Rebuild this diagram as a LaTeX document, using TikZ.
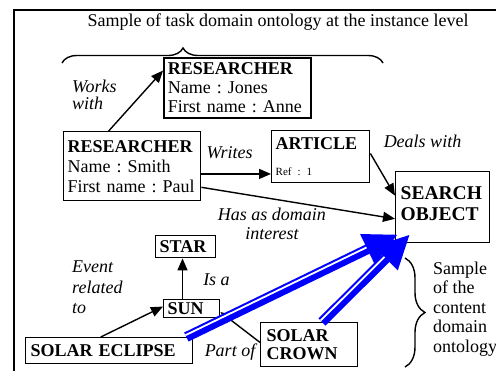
\documentclass[tikz,border=0pt]{standalone}
\usepackage{fontspec}
\setmainfont{Liberation Serif}
\usetikzlibrary{arrows.meta,calc,decorations.pathreplacing}

\begin{document}
\frenchspacing
\begin{tikzpicture}[x=1pt,y=-1pt,
  ent/.style={draw, line width=1.4pt, fill=white, anchor=north west, align=left,
    inner xsep=4pt, inner ysep=0pt, font=\fontsize{18}{19}\selectfont},
  lbl/.style={font=\fontsize{18}{20}\selectfont\itshape, inner sep=0pt},
  note/.style={font=\fontsize{18}{19.5}\selectfont, inner sep=0pt},
  link/.style={line width=1.4pt, -{Triangle[length=12pt,width=10pt]}},
  domarrow/.style={blue, line width=10pt, -{Triangle[length=34pt,width=31pt]}},
  stripe/.style={white, line width=1.8pt, shorten >=34pt},
  bracestyle/.style={decorate, line width=1.4pt}
]
\useasboundingbox (0,0) rectangle (496,370);

% outer frame
\draw[line width=1.5pt] (14,380) -- (14,10) -- (510,10);

% title and brace of the task ontology
\node[note] (title) at (278,22) {Sample of task domain ontology at the instance level};
\draw[bracestyle, decoration={brace, amplitude=15pt, aspect=0.377}] (62,63) -- (383,63);

% task domain instances
\node[ent, line width=1.8pt, minimum width=147pt, minimum height=60pt, text width=139pt] (jones) at (163,57)
  {\textbf{RESEARCHER}\\Name~:~Jones\\First~name~:~Anne};
\node[ent, font=\fontsize{18}{20}\selectfont, inner xsep=4pt, minimum width=137pt, minimum height=69pt, text width=129pt] (smith) at (63,131)
  {\textbf{RESEARCHER}\\Name~:~Smith\\First~name~:~Paul};
\node[ent, minimum width=98pt, minimum height=52pt, text width=90pt] (article) at (271,130)
  {\textbf{ARTICLE}\\[7pt]{\fontsize{11}{13}\selectfont Ref~:~1}};
\node[ent, font=\fontsize{19.5}{21}\selectfont, inner xsep=5pt, minimum width=94pt, minimum height=71pt, text width=84pt] (search) at (395,171)
  {\textbf{SEARCH}\\\textbf{OBJECT}\rule[-8pt]{0pt}{1pt}};

% content domain concepts
\node[ent, minimum width=60pt, minimum height=22pt, text width=52pt] (star) at (155,235) {\textbf{STAR}};
\node[ent, minimum width=56pt, minimum height=18pt, text width=48pt] (sun) at (163,299) {\textbf{SUN}};
\node[ent, inner xsep=5pt, minimum width=167pt, minimum height=26pt, text width=157pt] (eclipse) at (25,337) {\textbf{SOLAR~ECLIPSE}};
\node[ent, inner xsep=6pt, font=\fontsize{18}{18}\selectfont, minimum width=97pt, minimum height=44pt, text width=85pt] (crown) at (260,322)
  {\textbf{SOLAR}\\\textbf{CROWN}};

% relations between instances
\draw[link] ($(smith.north west)!0.33!(smith.north east)$) -- ($(jones.north west)!0.22!(jones.south west)$);
\coordinate (wr) at ($(smith.north east)!0.61!(smith.south east)$);
\draw[link] (wr) -- (wr -| article.west);
\draw[link] ($(article.north east)!0.44!(article.south east)$) -- ($(search.north west)!0.34!(search.south west)$);
\draw[link] ($(smith.north east)!0.80!(smith.south east)$) -- ($(search.north west)!0.66!(search.south west)$);

% relations between concepts
\coordinate (isa) at ($(sun.north west)!0.34!(sun.north east)$);
\draw[link] (isa) -- (isa |- star.south);
\draw[link] ($(eclipse.north west)!0.45!(eclipse.north east)$) -- ($(sun.north west)!0.39!(sun.south west)$);
\draw[link] ($(crown.north west)!0.45!(crown.south west)$) -- ($(sun.north east)!0.67!(sun.south east)$);

% relation labels
\node[lbl, align=left, anchor=west, font=\fontsize{18}{17}\selectfont\itshape] (worksw) at (72,95) {Works\\with};
\node[lbl] (writes) at (229.5,153) {Writes};
\node[lbl] (dealsw) at (422.5,141) {Deals with};
\node[lbl, align=center, font=\fontsize{18}{19}\selectfont\itshape] (hasdom) at (272,223.5) {Has as domain\\interest};
\node[lbl] (isalbl) at (216.5,280) {Is a};
\node[lbl, align=left, anchor=west, font=\fontsize{18}{20.5}\selectfont\itshape] (eventrel) at (72,287.5) {Event\\related\\to};
\node[lbl] (partof) at (230,352) {Part of};

% links from the content ontology to the search object
\coordinate (e0) at ($(eclipse.north east)!0.042!(eclipse.north west)$);
\coordinate (e1) at ($(search.south west)+(3,-9)$);
\coordinate (c0) at ($(crown.north west)!0.63!(crown.north east)$);
\coordinate (c1) at ($(search.south west)+(15,-9)$);
\draw[domarrow] (e0) -- (e1);
\draw[stripe] ($(e0)!2pt!90:(e1)$) -- ($(e1)!2pt!-90:(e0)$);
\draw[domarrow] (c0) -- (c1);
\draw[stripe] ($(c0)!2pt!90:(c1)$) -- ($(c1)!2pt!-90:(c0)$);

% brace and caption of the content ontology
\draw[bracestyle, decoration={brace, amplitude=20pt}] (405,258) -- (405,367);
\node[note, align=left, anchor=west] (content) at (433,309) {Sample\\of the\\content\\domain\\ontology};
\end{tikzpicture}
\end{document}
